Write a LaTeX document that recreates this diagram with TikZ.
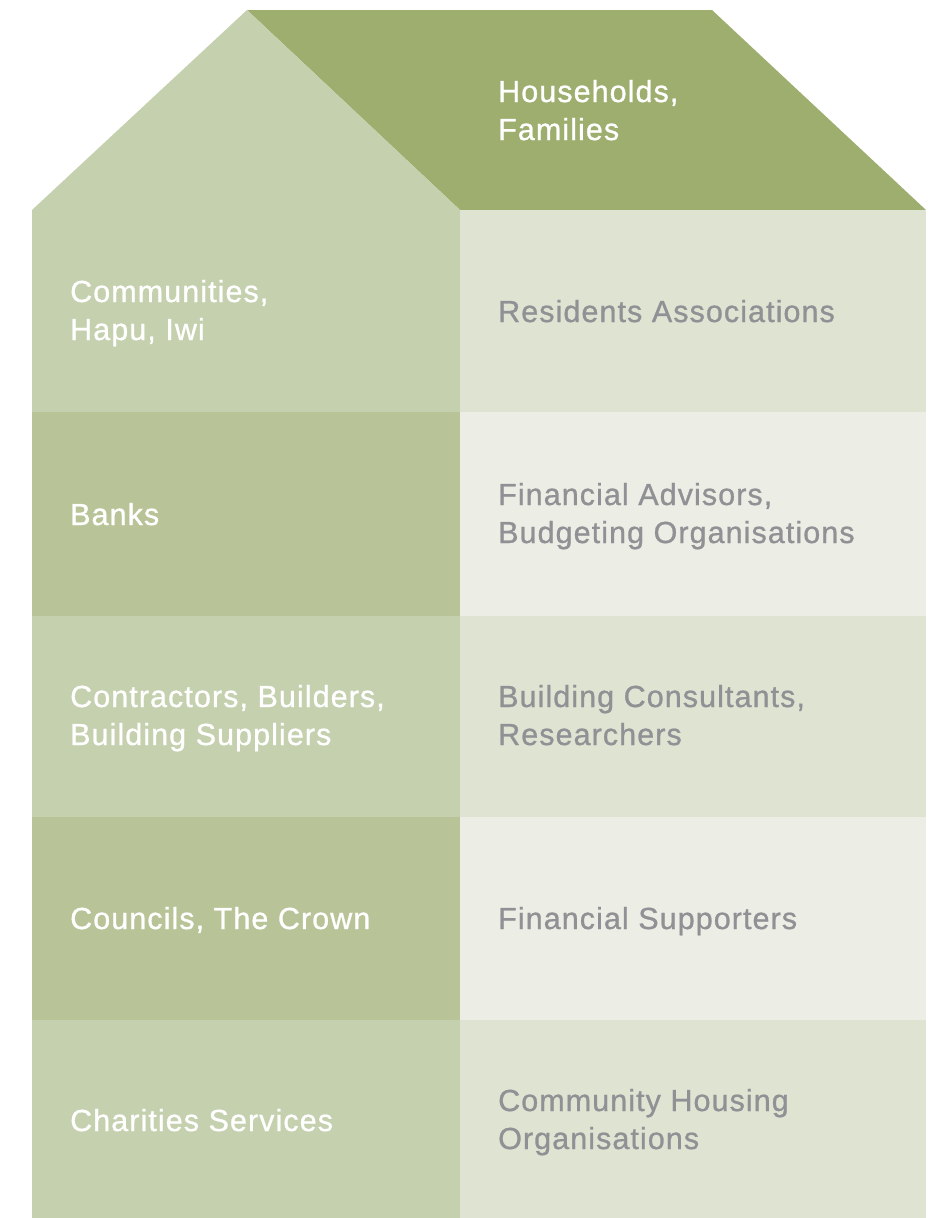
\documentclass[tikz,border=0pt]{standalone}
\usepackage{fontspec}
\setmainfont{Liberation Sans}
\newfontfamily\lblfont{Liberation Sans}[FakeBold=0.9, LetterSpace=3.5]
\definecolor{roofdark}{HTML}{9EAE6F}
\definecolor{leftlight}{HTML}{C5D0AE}
\definecolor{leftdark}{HTML}{B8C498}
\definecolor{rightA}{HTML}{DFE3D2}
\definecolor{rightB}{HTML}{ECEDE5}
\definecolor{txtgray}{HTML}{8F9194}
\tikzset{
  lbl/.style={anchor=base west, align=left, inner sep=0pt, font=\lblfont\fontsize{30.5}{38}\selectfont},
  wlbl/.style={lbl, text=white},
  glbl/.style={lbl, text=txtgray},
}
\begin{document}
\begin{tikzpicture}[x=1pt,y=-1pt]
\useasboundingbox (0,0) rectangle (944,1218);
% roof
\fill[roofdark] (247,10) -- (712,10) -- (926,210) -- (460,210) -- cycle;
\fill[leftlight] (32,210) -- (247,10) -- (460,210) -- (460,412) -- (32,412) -- cycle;
% left column
\fill[leftdark]  (32,412) rectangle (460,616);
\fill[leftlight] (32,616) rectangle (460,817);
\fill[leftdark]  (32,817) rectangle (460,1020);
\fill[leftlight] (32,1020) rectangle (460,1218);
% right column
\fill[rightA] (460,210) rectangle (926,412);
\fill[rightB] (460,412) rectangle (926,616);
\fill[rightA] (460,616) rectangle (926,817);
\fill[rightB] (460,817) rectangle (926,1020);
\fill[rightA] (460,1020) rectangle (926,1218);
% labels (positions are last-line baselines)
\node[wlbl] (house) at (498,140) {Households,\\Families};
\node[wlbl] (comm) at (70,340) {Communities,\\Hapu, Iwi};
\node[glbl] (resid) at (498,322) {Residents Associations};
\node[wlbl] (banks) at (70,525) {Banks};
\node[glbl] (finadv) at (498,543) {Financial Advisors,\\Budgeting Organisations};
\node[wlbl] (contr) at (70,745) {Contractors, Builders,\\Building Suppliers};
\node[glbl] (bcons) at (498,745) {Building Consultants,\\Researchers};
\node[wlbl] (counc) at (70,929) {Councils, The Crown};
\node[glbl] (finsup) at (498,929) {Financial Supporters};
\node[wlbl] (char) at (70,1131) {Charities Services};
\node[glbl] (chousing) at (498,1149) {Community Housing\\Organisations};
\end{tikzpicture}
\end{document}
